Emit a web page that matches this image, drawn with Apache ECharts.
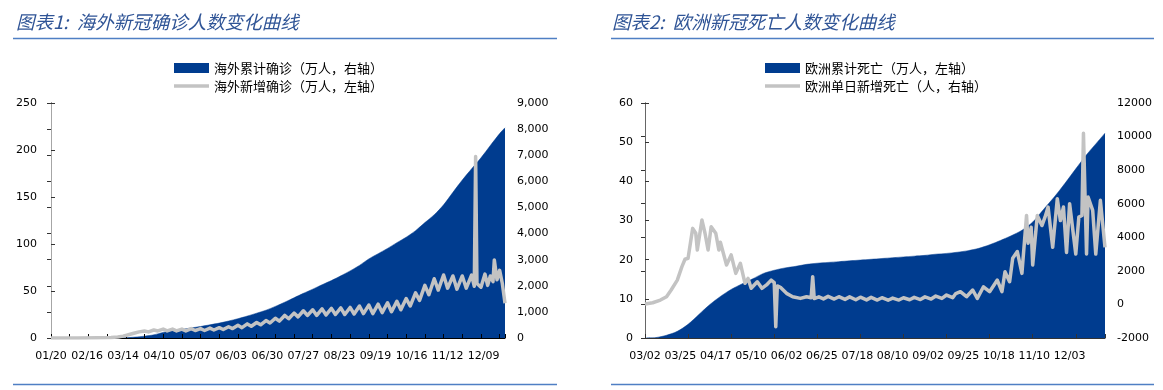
<!DOCTYPE html>
<html>
<head>
<meta charset="utf-8">
<script src="https://cdn.jsdelivr.net/npm/echarts/dist/echarts.min.js"></script>
<style>
html,body{margin:0;padding:0;background:#fff;}
#c{width:1163px;height:390px;}
</style>
</head>
<body>
<div id="c"></div>
<script>
// ---------- Chart 1: overseas confirmed (day index 0 = 2020-01-20) ----------
const xLabels1 = ['01/20','02/16','03/14','04/10','05/07','06/03','06/30','07/27','08/23','09/19','10/16','11/12','12/09'];
const overseasCumDay = [0,7,14,21,28,35,42,49,56,63,70,77,84,91,98,105,112,119,126,133,140,147,154,161,168,175,182,189,196,203,210,217,224,231,238,245,252,259,266,273,280,287,294,301,308,315,322,329,336,340];
const overseasCumVal = [0,0,0.1,0.2,0.3,0.5,1,3,12,35,70,120,215,275,330,385,440,505,570,650,740,840,950,1065,1210,1370,1540,1710,1870,2040,2200,2380,2570,2780,3030,3230,3430,3650,3860,4110,4420,4720,5100,5580,6050,6480,6900,7370,7830,8050];
const overseasNewDay = [0,20,35,45,50,54,58,62,66,70,73,77,80,84,87,91,94,98,101,105,108,112,115,119,122,126,129,133,136,140,143,147,150,154,157,161,164,168,171,175,178,182,185,189,192,196,199,203,206,210,213,217,220,224,227,231,234,238,241,245,248,252,255,259,262,266,269,273,276,280,283,287,290,294,297,301,304,308,311,315,317,318,319,322,325,327,329,331,332,334,336,338,340];
const overseasNewVal = [0,0.1,0.2,0.5,1,2,3.5,5,6.5,7.5,6.5,8.5,7.5,9.5,7.5,9.5,7.5,9.5,7.5,10,8,10,8,10.5,8.5,11,9,12,10,13.5,11,15,12.5,16.5,14,18.5,16,21,18,24,20.5,26.5,22.5,29,24,30,24,31,24.5,31.5,25,32,25,32.5,25.5,34,26,35,26,36,27,37.5,28,39,30,42,34,48,40,56,46,63,51,67,53,66,52,66,53,67,55,193,58,54,68,56,66,60,83,62,72,58,37];

// ---------- Chart 2: Europe deaths (day index 0 = 2020-03-02) ----------
const xLabels2 = ['03/02','03/25','04/17','05/10','06/02','06/25','07/18','08/10','09/02','09/25','10/18','11/10','12/03'];
const europeCumDay = [0,7,14,21,28,35,42,49,56,63,70,77,84,91,98,105,112,119,126,133,140,147,154,161,168,175,182,189,196,203,210,217,224,231,238,245,252,259,266,273,280,287,294,299];
const europeCumVal = [0,0.1,0.7,1.7,3.5,6.0,8.5,10.6,12.4,13.8,15.1,16.5,17.3,17.9,18.3,18.8,19.1,19.3,19.5,19.7,19.9,20.1,20.3,20.5,20.7,20.9,21.1,21.4,21.6,21.9,22.3,22.9,23.8,24.9,26.1,27.5,29.6,32.8,36.0,39.5,43.2,46.8,50.0,52.3];
const europeNewDay = [0,5,10,14,17,21,24,26,28,31,33,34,37,39,41,43,46,48,49,53,56,59,62,65,67,69,73,76,79,82,84,85,86,88,92,96,101,105,108,109,110,113,116,119,123,126,130,133,137,140,144,147,151,154,158,161,165,168,172,175,179,182,186,189,193,196,200,202,205,209,213,216,220,224,229,232,234,237,239,242,245,248,249,251,252,255,258,260,262,265,268,270,272,274,276,280,282,284,285,287,288,291,293,296,299];
const europeNewVal = [30,100,260,460,860,1450,2250,2690,2750,4530,4240,3240,5030,4240,3240,4630,4240,3240,3700,2350,2950,1850,2450,1260,1550,960,1350,960,1160,1450,1300,-1330,1100,1020,660,460,360,460,400,1650,350,450,330,480,320,460,300,450,280,430,270,420,260,400,250,380,260,400,280,420,290,450,320,500,360,560,400,650,760,460,860,360,1050,760,1450,760,1950,1350,2750,3150,1850,5300,3650,4600,2350,5300,4700,5200,5800,3400,6300,5000,5800,3100,6000,3000,5200,5300,10200,3000,6400,5600,3000,6200,3400];

const names1 = ['海外累计确诊（万人，右轴）', '海外新增确诊（万人，左轴）'];
const names2 = ['欧洲累计死亡（万人，左轴）', '欧洲单日新增死亡（人，右轴）'];

const BLUE = '#003C8F';
const GRAY = '#C3C3C3';
const zip = (a, b) => a.map((d, i) => [d, b[i]]);

const labelFont = { fontFamily: 'DejaVu Sans', fontSize: 11, color: '#000' };
const cjk = 'Noto Sans CJK SC';
// thin bar icon for the line legend entries (bounds kept at 35x10 by the extra move points)
const LINE_ICON = 'path://M0,0 M35,10 M0,3.2 L35,3.2 L35,6.8 L0,6.8 Z';

function dataXAxis(grid, max, tickInt, color) {
  return { type: 'value', gridIndex: grid, min: 0, max: max, interval: tickInt, z: 10,
    axisLine: { show: true, lineStyle: { color: color, width: 1 } },
    axisTick: { show: true, inside: true, length: 4, lineStyle: { color: color } },
    axisLabel: { show: false }, splitLine: { show: false } };
}
function labelXAxis(grid, max, labInt, labels) {
  return { type: 'value', gridIndex: grid, min: 0, max: max, interval: labInt, position: 'bottom', z: 10,
    axisLine: { show: false }, axisTick: { show: false }, splitLine: { show: false },
    axisLabel: Object.assign({ margin: 13, showMaxLabel: true,
      formatter: v => (v % labInt === 0 && labels[v / labInt] !== undefined) ? labels[v / labInt] : '' }, labelFont) };
}
function yAx(grid, pos, min, max, intv, lineColor, fmt, margin) {
  return { type: 'value', gridIndex: grid, position: pos, min: min, max: max, interval: intv, z: 10,
    axisLine: { show: true, lineStyle: { color: lineColor, width: 1 } },
    axisTick: { show: true, inside: true, length: 4, lineStyle: { color: '#333' } },
    splitLine: { show: false },
    axisLabel: Object.assign({ margin: margin, formatter: fmt }, labelFont) };
}
function legendFor(left, names) {
  return { orient: 'vertical', left: left, top: 61, padding: 0, itemWidth: 35, itemHeight: 10, itemGap: 4,
    selectedMode: false,
    textStyle: { fontFamily: cjk, fontSize: 13, color: '#000', lineHeight: 14 },
    data: [ { name: names[0], icon: 'rect' },
            { name: names[1], icon: LINE_ICON, itemStyle: { color: GRAY, borderWidth: 0 } } ] };
}

const titleStyle = { fontFamily: cjk, fontSize: 18.5, fontStyle: 'italic', fontWeight: 'normal', color: '#2F5496' };

const option = {
  animation: false,
  backgroundColor: '#fff',
  title: [
    { text: '图表1:  海外新冠确诊人数变化曲线', left: 16, top: 13, padding: 0, textStyle: titleStyle },
    { text: '图表2:  欧洲新冠死亡人数变化曲线', left: 612, top: 13, padding: 0, textStyle: titleStyle }
  ],
  graphic: [
    { type: 'line', shape: { x1: 13, y1: 38.5, x2: 557, y2: 38.5 }, style: { stroke: '#4F7FC4', lineWidth: 1.3 } },
    { type: 'line', shape: { x1: 611, y1: 38.5, x2: 1154, y2: 38.5 }, style: { stroke: '#4F7FC4', lineWidth: 1.3 } },
    { type: 'line', shape: { x1: 13, y1: 384.5, x2: 557, y2: 384.5 }, style: { stroke: '#4F7FC4', lineWidth: 1.3 } },
    { type: 'line', shape: { x1: 611, y1: 384.5, x2: 1154, y2: 384.5 }, style: { stroke: '#4F7FC4', lineWidth: 1.3 } }
  ],
  legend: [ legendFor(174, names1), legendFor(765, names2) ],
  grid: [
    { left: 51, top: 103, width: 454, height: 235 },
    { left: 645, top: 103, width: 460, height: 235 }
  ],
  xAxis: [
    dataXAxis(0, 340, 14, '#000'),
    labelXAxis(0, 340, 27, xLabels1),
    dataXAxis(1, 299, 28, '#333'),
    labelXAxis(1, 299, 23, xLabels2)
  ],
  yAxis: [
    yAx(0, 'left', 0, 250, 50, '#000', v => String(v), 14),
    yAx(0, 'right', 0, 9000, 1000, '#A6A6A6', v => v.toLocaleString('en-US'), 12),
    yAx(1, 'left', 0, 60, 10, '#666', v => String(v), 12),
    yAx(1, 'right', -2000, 12000, 2000, '#666', v => String(v), 12)
  ],
  series: [
    { name: names1[0], type: 'line', xAxisIndex: 0, yAxisIndex: 1, data: zip(overseasCumDay, overseasCumVal),
      symbol: 'none', smooth: 0.3, color: BLUE, lineStyle: { width: 0.5, color: BLUE },
      areaStyle: { color: BLUE, opacity: 1 }, z: 2 },
    { name: names1[1], type: 'line', xAxisIndex: 0, yAxisIndex: 0, data: zip(overseasNewDay, overseasNewVal),
      symbol: 'none', color: GRAY, lineStyle: { width: 3.5, color: GRAY, join: 'round' }, z: 12 },
    { name: names2[0], type: 'line', xAxisIndex: 2, yAxisIndex: 2, data: zip(europeCumDay, europeCumVal),
      symbol: 'none', smooth: 0.3, color: BLUE, lineStyle: { width: 0.5, color: BLUE },
      areaStyle: { color: BLUE, opacity: 1 }, z: 2 },
    { name: names2[1], type: 'line', xAxisIndex: 2, yAxisIndex: 3, data: zip(europeNewDay, europeNewVal),
      symbol: 'none', color: GRAY, lineStyle: { width: 3.5, color: GRAY, join: 'round' }, z: 12 }
  ]
};

const chart = echarts.init(document.getElementById('c'), null, { renderer: 'canvas' });
chart.setOption(option);
</script>
</body>
</html>
